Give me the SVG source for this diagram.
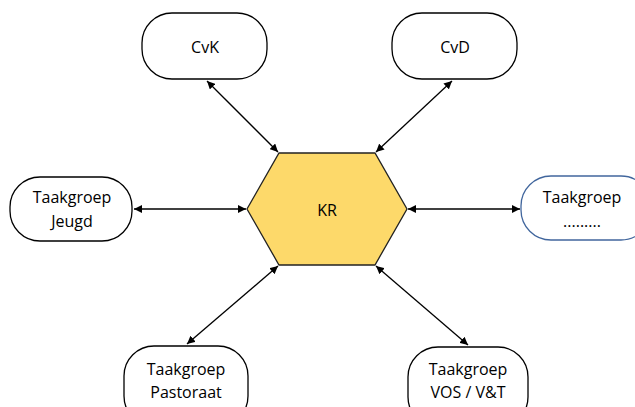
<svg xmlns="http://www.w3.org/2000/svg" width="635" height="407" viewBox="0 0 635 407">
<style>
.node{fill:#fff;stroke:#000;stroke-width:1.3}
.blue{fill:#fff;stroke:#41669d;stroke-width:1.3}
.hex{fill:#fdd96a;stroke:#222;stroke-width:1.3}
.conn{stroke:#000;stroke-width:1.3;fill:none;marker-start:url(#ah);marker-end:url(#ah)}
text{font-family:"Open Sans","Liberation Sans",Arial,sans-serif;font-size:16px;fill:#000;text-anchor:middle}
</style>
<defs>
<marker id="ah" viewBox="0 0 10 10" refX="10" refY="5" markerWidth="8" markerHeight="8" markerUnits="userSpaceOnUse" orient="auto-start-reverse">
<path d="M0,0 L10,5 L0,10 z" fill="#000"/>
</marker>
</defs>
<g id="connectors">
<line class="conn" x1="207" y1="81" x2="278" y2="152"/>
<line class="conn" x1="452" y1="81" x2="376" y2="152"/>
<line class="conn" x1="134" y1="209" x2="246" y2="209"/>
<line class="conn" x1="408" y1="209" x2="520" y2="209"/>
<line class="conn" x1="187" y1="344" x2="278" y2="266"/>
<line class="conn" x1="468" y1="345" x2="376" y2="266"/>
</g>
<g id="KR">
<polygon class="hex" points="279,153 375,153 407,209 375,265 279,265 247,209"/>
<text x="327" y="216">KR</text>
</g>
<g id="CvK">
<rect class="node" x="142" y="13" width="125" height="66" rx="30"/>
<text x="205" y="53">CvK</text>
</g>
<g id="CvD">
<rect class="node" x="392" y="13" width="125" height="66" rx="30"/>
<text x="455" y="53">CvD</text>
</g>
<g id="Jeugd">
<rect class="node" x="10" y="177" width="122" height="64" rx="30"/>
<text x="72" y="203">Taakgroep</text>
<text x="72" y="227">Jeugd</text>
</g>
<g id="Overig">
<rect class="blue" x="521" y="176" width="130" height="64" rx="30"/>
<text x="582" y="203">Taakgroep</text>
<text x="582" y="227">.........</text>
</g>
<g id="Pastoraat">
<rect class="node" x="124" y="346" width="124" height="80" rx="30"/>
<text x="186" y="375">Taakgroep</text>
<text x="186" y="398">Pastoraat</text>
</g>
<g id="VOS">
<rect class="node" x="408" y="347" width="120" height="80" rx="30"/>
<text x="468" y="375">Taakgroep</text>
<text x="468" y="398">VOS / V&amp;T</text>
</g>
</svg>
